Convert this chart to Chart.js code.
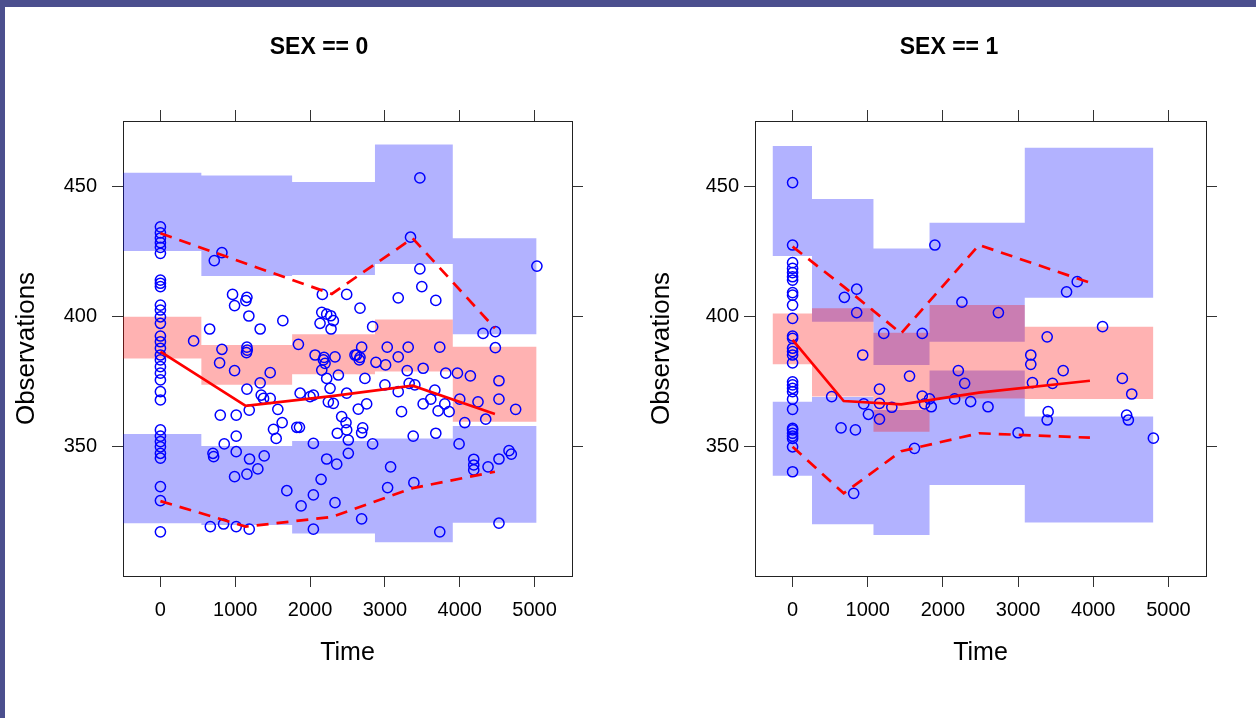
<!DOCTYPE html>
<html><head><meta charset="utf-8">
<script src="https://cdn.jsdelivr.net/npm/chart.js@4.4.1/dist/chart.umd.min.js"></script>
<style>
html,body{margin:0;padding:0;background:#fff;}
body{width:1256px;height:718px;position:relative;overflow:hidden;}
#topbar{position:absolute;left:0;top:0;width:1256px;height:7px;background:#4b4f8e;}
#leftbar{position:absolute;left:0;top:0;width:5px;height:718px;background:#4b4f8e;}
.wrap{position:absolute;top:0;width:628px;height:718px;}
canvas{display:block;}
</style></head><body>
<div id="topbar"></div><div id="leftbar"></div>
<div class="wrap" style="left:0px"><canvas id="c0" width="628" height="718" style="width:628px;height:718px"></canvas></div>
<div class="wrap" style="left:628px"><canvas id="c1" width="628" height="718" style="width:628px;height:718px"></canvas></div>
<script>
// ---------- shared axis ticks ----------
const xTicks = [0, 1000, 2000, 3000, 4000, 5000];
const yTicks = [350, 400, 450];
const panelTitles = ['SEX == 0', 'SEX == 1'];

// ---------- SEX == 0 ----------
const binEdges0  = [-500, 547, 1760, 2867, 3907, 5027];
const upperHi0   = [455.1, 454.0, 451.5, 466.0, 429.9];
const upperLo0   = [425.0, 415.4, 415.8, 420.0, 393.0];
const medianHi0  = [399.7, 388.8, 393.0, 398.7, 388.2];
const medianLo0  = [383.7, 373.6, 377.6, 378.7, 359.3];
const lowerHi0   = [354.6, 350.0, 351.9, 352.9, 357.7];
const lowerLo0   = [320.3, 319.6, 316.3, 313.0, 320.5];
const binMid0    = [0, 1140, 2290, 3370, 4470];
const obsMedian0 = [386.3, 365.4, 369.2, 373.2, 362.3];
const obsP95_0   = [431.8, 420.2, 408.5, 429.9, 395.3];
const obsP05_0   = [328.8, 319.0, 322.7, 333.8, 340.1];
const obsTime0 = [0,0,0,0,0,0,0,0,0,0,0,0,0,0,0,0,0,0,0,0,0,0,0,0,0,0,0,0,0,0,0,0,
  720,822,964,991,1156,1142,1182,1636,658,1333,444,822,1156,1160,1150,1844,2164,2156,2222,2276,
  2311,2133,2280,2489,2067,2187,2333,3467,3342,5031,3467,3493,3178,3680,2667,2836,4311,4476,4476,2689,
  2622,2667,3031,3178,3311,3733,791,991,1467,1333,1156,1347,1378,1467,1187,1569,800,1013,1627,1511,
  1547,1822,1858,1013,853,702,711,1013,1191,1387,991,1156,1302,1689,2044,2044,2147,1880,2222,2356,
  2333,667,844,1013,1187,2044,1867,2044,2000,2178,2200,2156,2222,2267,2378,2489,2422,2489,2364,2511,
  2511,2311,2600,2657,2880,3009,3298,3511,3813,3969,4142,2733,4524,3000,3178,3324,3400,3667,4000,4244,
  4524,4747,2244,2644,2756,3222,3511,3613,3711,3800,3858,4067,4347,2480,2703,2689,2836,3378,3680,3991,
  3076,4187,4187,4187,4378,4524,4658,4689,3036,3387,2689,3733,4524];
const obsDV0 = [434.3,432,430,428.2,426.4,424.1,413.8,412.6,411.3,404.2,402.3,399.7,397.2,392.3,390.1,387.6,
  385,383.1,380.5,378,375.4,370.9,367.7,356.2,353.8,351.7,349.7,347.2,345.3,334.4,329,317,
  421.3,424.4,408.3,404,407.2,405.9,400,398.2,395,395,390.4,387.2,388,386.9,385.9,389.1,408.3,401.4,400.7,400.1,
  398.2,397.2,395,408.3,385,384.1,384.3,453.1,430.3,419.2,418.1,411.3,407,406,403,395.9,393.3,394,387.8,388,
  385,384.1,388,384.3,388,388,382,379,378.2,374.3,371.9,369.6,368.3,368.3,363.8,364.1,361.9,361.9,359,356.4,
  352.9,357.2,357.2,353.8,350.8,347.2,345.9,347.8,345,346.2,338.2,339.2,341.2,332.8,351,331.2,337.2,327,345,343,
  328.2,319,320,319,318,318,370.3,369.6,369,383.1,381.8,379.2,376,372.2,377.3,370.3,361.3,356.2,354.9,352.3,
  347.2,366.4,385,383.1,382.2,381.2,379,379.9,378,378,377,376,375.1,373.5,370.9,374.1,373.5,371.5,368,367,
  368,364.1,367,364.2,366.2,363.2,366.2,368,363.5,366.2,363.2,359,360.3,359,357,355.1,350.8,353.8,354.9,350.8,
  342,344.9,342.7,340.8,342,345,348.2,346.9,334,335.9,322,317,320.3];

// ---------- SEX == 1 ----------
const binEdges1  = [-267, 258, 1076, 1822, 3089, 4800];
const upperHi1   = [465.4, 445.0, 426.0, 435.9, 464.7];
const upperLo1   = [423.1, 397.8, 381.2, 390.1, 407.0];
const medianHi1  = [401.0, 403.0, 393.6, 404.2, 395.9];
const medianLo1  = [381.4, 369.0, 355.5, 368.3, 368.1];
const lowerHi1   = [367.0, 368.8, 363.8, 379.0, 361.3];
const lowerLo1   = [338.6, 319.9, 315.8, 335.0, 320.6];
const binMid1    = [0, 680, 1445, 2480, 3956];
const obsMedian1 = [390.8, 367.3, 366.0, 370.5, 375.1];
const obsP95_1   = [426.7, 411.3, 393.3, 427.3, 412.8];
const obsP05_1   = [349.7, 331.8, 348.0, 354.9, 353.2];
const obsTime1 = [0,0,0,0,0,0,0,0,0,0,0,0,0,0,0,0,0,0,0,0,0,0,0,0,0,0,0,0,0,0,
  689,853,853,1213,1725,1893,2253,933,2738,3645,3787,4124,3387,3169,1556,1156,520,947,1156,1320,
  1009,1156,645,836,1622,813,1725,1756,1822,1845,2205,2289,2156,2369,2600,3169,3600,3191,3458,4387,
  4512,3000,3400,3387,4444,4467,4800];
const obsDV1 = [451.3,427.3,420.5,418.3,416.7,415.1,413.8,409,408,404.2,399.1,392.3,391.4,387.6,386.3,385,382,
  374.7,373.5,372.2,370.9,368,364.1,356.8,356.2,354.9,353.8,352.9,349.7,340.1,
  407.2,410.3,401.3,393.3,393.3,427.3,405.3,385,401.3,409.3,413.2,395.9,392,385,376.9,371.9,369,366.2,366.4,364.9,
  362.2,360.3,357,356.2,349.1,331.8,369.2,366.2,368.1,365.1,379,374.1,368.1,367.1,365.1,381.4,379,374.4,374.1,376,
  370,355.1,363.2,360,361.9,360,353];

// ---------- builders ----------
const BLUE_BAND = 'rgba(0,0,255,0.3)';
const RED_BAND = 'rgba(255,0,0,0.3)';

function stepData(edges, vals) {
  return edges.map((e, i) => ({ x: e, y: vals[Math.min(i, vals.length - 1)] }));
}
function xy(xs, ys) { return xs.map((x, i) => ({ x: x, y: ys[i] })); }

function bandPair(edges, hi, lo, color, order) {
  const common = { stepped: 'before', pointRadius: 0, borderWidth: 0, order: order, showLine: true, tension: 0 };
  return [
    Object.assign({ data: stepData(edges, hi), fill: '+1', backgroundColor: color, borderColor: 'rgba(0,0,0,0)' }, common),
    Object.assign({ data: stepData(edges, lo), fill: false, backgroundColor: color, borderColor: 'rgba(0,0,0,0)' }, common)
  ];
}

function makePanel(id, title, p, lay) {
  const datasets = [].concat(
    bandPair(p.edges, p.upHi, p.upLo, BLUE_BAND, 5),
    bandPair(p.edges, p.loHi, p.loLo, BLUE_BAND, 5),
    bandPair(p.edges, p.mdHi, p.mdLo, RED_BAND, 4),
    [{
      data: xy(p.t, p.dv), showLine: false, pointRadius: 5.1, pointBorderWidth: 1.5,
      pointBorderColor: '#0000ff', pointBackgroundColor: 'rgba(0,0,0,0)', borderColor: '#0000ff', order: 3, fill: false
    }, {
      data: xy(p.mid, p.med), borderColor: '#ff0000', borderWidth: 2.7, pointRadius: 0, fill: false, order: 1, tension: 0
    }, {
      data: xy(p.mid, p.p95), borderColor: '#ff0000', borderWidth: 2.7, borderDash: [12, 8], pointRadius: 0, fill: false, order: 1, tension: 0
    }, {
      data: xy(p.mid, p.p05), borderColor: '#ff0000', borderWidth: 2.7, borderDash: [12, 8], pointRadius: 0, fill: false, order: 1, tension: 0
    }]
  );
  const gridOpts = { drawOnChartArea: false, drawTicks: true, tickLength: 11, tickColor: '#333', tickWidth: 1 };
  const borderOpts = { display: true, color: '#222', width: 1 };
  const setX = s => { s.ticks = xTicks.map(v => ({ value: v })); };
  const setY = s => { s.ticks = yTicks.map(v => ({ value: v })); };
  new Chart(document.getElementById(id), {
    type: 'line',
    data: { datasets: datasets },
    options: {
      responsive: false, animation: false, events: [],
      layout: { padding: { left: lay.padLeft, top: 0, right: 0, bottom: 50 } },
      plugins: {
        legend: { display: false }, tooltip: { enabled: false },
        title: { display: true, text: title, color: '#000', font: { size: 23, weight: 'bold' }, padding: { top: 34, bottom: 48.4 } }
      },
      scales: {
        x: {
          type: 'linear', position: 'bottom', min: -500, max: 5500,
          afterBuildTicks: setX, afterFit: s => { s.height = 92; },
          grid: gridOpts, border: borderOpts,
          ticks: { color: '#000', font: { size: 20 }, padding: 11, maxRotation: 0, autoSkip: false, callback: v => String(v) },
          title: { display: true, text: 'Time', color: '#000', font: { size: 25 }, padding: { top: 0, bottom: 0 } }
        },
        x2: {
          type: 'linear', position: 'top', min: -500, max: 5500,
          afterBuildTicks: setX, afterFit: s => { s.height = 11; },
          grid: gridOpts, border: borderOpts, ticks: { display: false }
        },
        y: {
          type: 'linear', position: 'left', min: 300, max: 475,
          afterBuildTicks: setY, afterFit: s => { s.width = lay.yWidth; },
          grid: gridOpts, border: borderOpts,
          ticks: { color: '#000', font: { size: 20 }, padding: lay.yTickPad, callback: v => String(v) },
          title: { display: true, text: 'Observations', color: '#000', font: { size: 26 }, padding: { top: lay.yTitlePad, bottom: 0 } }
        },
        y2: {
          type: 'linear', position: 'right', min: 300, max: 475,
          afterBuildTicks: setY, afterFit: s => { s.width = lay.rightWidth; },
          grid: gridOpts, border: borderOpts, ticks: { display: false }
        }
      }
    }
  });
}

Chart.defaults.font.family = "'Liberation Sans', Arial, sans-serif";

makePanel('c0', panelTitles[0], {
  edges: binEdges0, upHi: upperHi0, upLo: upperLo0, mdHi: medianHi0, mdLo: medianLo0, loHi: lowerHi0, loLo: lowerLo0,
  mid: binMid0, med: obsMedian0, p95: obsP95_0, p05: obsP05_0, t: obsTime0, dv: obsDV0
}, { padLeft: 10, yWidth: 113, yTitlePad: 1, yTickPad: 15, rightWidth: 56 });

makePanel('c1', panelTitles[1], {
  edges: binEdges1, upHi: upperHi1, upLo: upperLo1, mdHi: medianHi1, mdLo: medianLo1, loHi: lowerHi1, loLo: lowerLo1,
  mid: binMid1, med: obsMedian1, p95: obsP95_1, p05: obsP05_1, t: obsTime1, dv: obsDV1
}, { padLeft: 14, yWidth: 113, yTitlePad: 4, yTickPad: 5, rightWidth: 50 });
</script>
</body></html>
